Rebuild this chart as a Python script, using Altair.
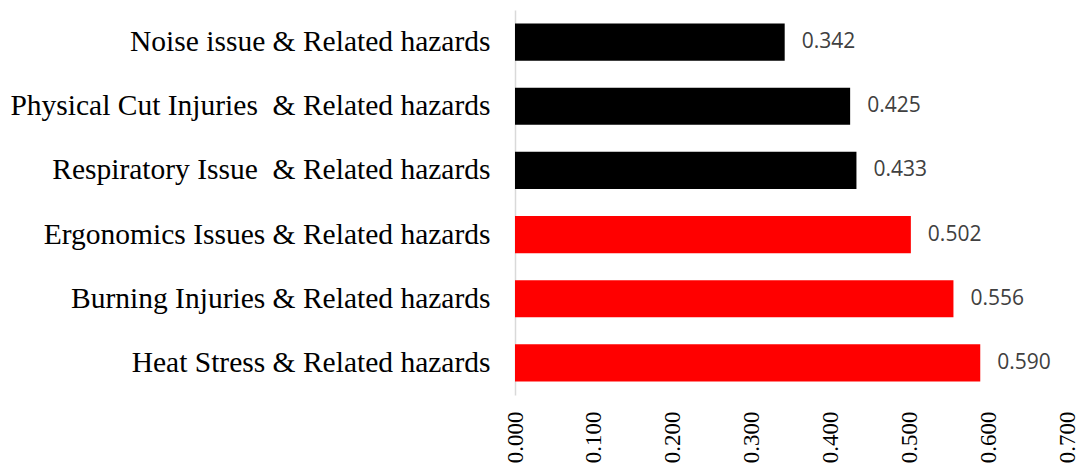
import altair as alt
import pandas as pd

categories = [
    "Noise issue & Related hazards",
    "Physical Cut Injuries\u00a0 & Related hazards",
    "Respiratory Issue\u00a0 & Related hazards",
    "Ergonomics Issues & Related hazards",
    "Burning Injuries & Related hazards",
    "Heat Stress & Related hazards",
]
values = [0.342, 0.425, 0.433, 0.502, 0.556, 0.590]
groups = ["low", "low", "low", "high", "high", "high"]

df = pd.DataFrame({"hazard": categories, "score": values, "group": groups})
df["label"] = df["score"].map(lambda v: f"{v:.3f}")

y_enc = alt.Y(
    "hazard:N",
    sort=categories,
    title=None,
    scale=alt.Scale(paddingInner=0.42, paddingOuter=0.21),
    axis=alt.Axis(
        labelFont="Liberation Serif",
        labelFontSize=29.5,
        labelColor="#000000",
        labelPadding=25,
        labelLimit=700,
        ticks=False,
        domainColor="#d9d9d9",
        domainWidth=1.5,
    ),
)
x_scale = alt.Scale(domain=[0, 0.7], nice=False)
x_axis = alt.Axis(
    values=[0, 0.1, 0.2, 0.3, 0.4, 0.5, 0.6, 0.7],
    format=".3f",
    labelAngle=270,
    labelFont="Liberation Serif",
    labelFontSize=23,
    labelColor="#000000",
    labelPadding=16,
    ticks=False,
    domain=False,
    grid=False,
    title=None,
)

bars = alt.Chart(df).mark_bar().encode(
    x=alt.X("score:Q", scale=x_scale, axis=x_axis),
    y=y_enc,
    color=alt.Color(
        "group:N",
        scale=alt.Scale(domain=["low", "high"], range=["#000000", "#ff0000"]),
        legend=None,
    ),
)

labels = alt.Chart(df).mark_text(
    align="left", baseline="middle", dx=17, font="Open Sans", fontSize=21, color="#404040"
).encode(
    x=alt.X("score:Q", scale=x_scale),
    y=alt.Y("hazard:N", sort=categories),
    text="label:N",
)

chart = (
    alt.layer(bars, labels)
    .properties(
        width=552,
        height=385,
        background="#ffffff",
        autosize=alt.AutoSizeParams(type="none"),
        padding={"left": 515, "top": 10, "right": 14, "bottom": 73},
    )
    .configure_view(strokeWidth=0, strokeOpacity=0)
    .configure_axis(grid=False)
)

chart.save("out.html", embed_options={"renderer": "svg", "actions": False})
